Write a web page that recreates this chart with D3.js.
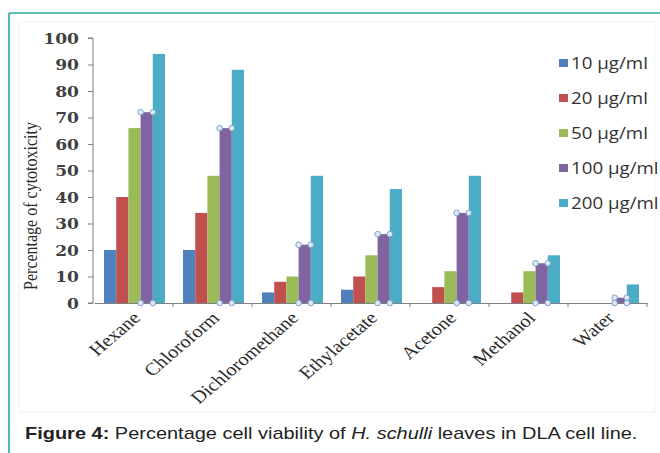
<!DOCTYPE html>
<html><head><meta charset="utf-8">
<script src="https://cdn.jsdelivr.net/npm/d3@7"></script>
<style>body{margin:0;background:#fff}svg{display:block}</style>
</head><body>
<svg id="c" width="660" height="453"></svg>
<script>
const categories = ["Hexane","Chloroform","Dichloromethane","Ethylacetate","Acetone","Methanol","Water"];
const seriesNames = ["10 µg/ml","20 µg/ml","50 µg/ml","100 µg/ml","200 µg/ml"];
const s10  = [20, 20, 4, 5, 0, 0, 0];
const s20  = [40, 34, 8, 10, 6, 4, 0];
const s50  = [66, 48, 10, 18, 12, 12, 0];
const s100 = [72, 66, 22, 26, 34, 15, 2];
const s200 = [94, 88, 48, 43, 48, 18, 7];
const yTicks = [0,10,20,30,40,50,60,70,80,90,100];
const colors = ["#4f81bd","#c0504d","#9bbb59","#8064a2","#4bacc6"];
const series = [s10,s20,s50,s100,s200];
const SX = 1.17; // horizontal stretch of the original figure

const svg = d3.select("#c");
// frame
svg.append("line").attr("x1",9).attr("x2",660).attr("y1",13).attr("y2",13).attr("stroke","#2aa89a").attr("stroke-width",1.6);
svg.append("line").attr("x1",9).attr("x2",9).attr("y1",13).attr("y2",453).attr("stroke","#2aa89a").attr("stroke-width",1.6);
svg.append("rect").attr("x",19).attr("y",22).attr("width",636).attr("height",390).attr("fill","none").attr("stroke","#f0f0f0");

const x0 = 94, x1 = 647, yB = 303, yT = 38;
const x = d3.scaleBand().domain(categories).range([x0,x1]).paddingInner(0).paddingOuter(0);
const xs = d3.scaleBand().domain(d3.range(5)).range([0, x.bandwidth()]).paddingOuter(0.74).paddingInner(0);
const y = d3.scaleLinear().domain([0,100]).range([yB,yT]);

// bars
series.forEach((vals,si)=>{
  svg.append("g").selectAll("rect").data(vals).join("rect")
    .attr("x",(d,i)=>x(categories[i])+xs(si)+1)
    .attr("y",d=>y(d))
    .attr("width",xs.bandwidth())
    .attr("height",d=>yB-y(d))
    .attr("fill",colors[si]);
});

// y axis
const ya = svg.append("g").attr("transform",`translate(${x0-1},0)`)
  .call(d3.axisLeft(y).tickValues(yTicks).tickSize(5).tickFormat(d3.format("d")));
ya.select(".domain").attr("stroke","#808080").attr("d",`M-5,${yB}H0V${yT}H-5`);
ya.selectAll(".tick line").attr("stroke","#808080");
ya.selectAll("text").attr("font-family","DejaVu Serif").attr("font-weight","bold").attr("font-size",14)
  .attr("fill","#404040").attr("x",-14/1.22).attr("dy","0.36em").attr("transform","scale(1.22,1)");

// x axis
const xa = svg.append("g").attr("transform",`translate(0,${yB})`)
  .call(d3.axisBottom(x).tickSize(0).tickFormat(""));
xa.select(".domain").attr("stroke","#808080").attr("stroke-width",1.2);
svg.append("g").selectAll("line").data(categories.slice(1).concat(["_end"])).join("line")
  .attr("x1",(d,i)=>x0+x.bandwidth()*(i+1)).attr("x2",(d,i)=>x0+x.bandwidth()*(i+1))
  .attr("y1",yB).attr("y2",yB+4).attr("stroke","#808080");

// category labels
svg.append("g").selectAll("text").data(categories).join("text")
  .attr("transform",d=>`translate(${x(d)+x.bandwidth()/2+8},${yB+16}) scale(${SX},1) rotate(-45)`)
  .attr("text-anchor","end")
  .attr("font-family","Liberation Serif").attr("font-size",17.5).attr("fill","#2a2a2a")
  .text(d=>d);

// selection handles on the 100 µg/ml series
const hx = (i)=>x(categories[i])+xs(3)+1;
const handles = [];
s100.forEach((v,i)=>{
  handles.push([hx(i), y(v)],[hx(i)+xs.bandwidth(), y(v)],[hx(i), yB],[hx(i)+xs.bandwidth(), yB]);
});
svg.append("g").selectAll("circle").data(handles).join("circle")
  .attr("cx",d=>d[0]).attr("cy",d=>d[1]).attr("r",2.8)
  .attr("fill","#dfe9f5").attr("stroke","#7fa1c9").attr("stroke-width",1);

// y title
svg.append("text").attr("transform","translate(37,206) scale(1.15,1) rotate(-90)")
  .attr("text-anchor","middle").attr("font-family","Liberation Serif").attr("font-size",16).attr("fill","#2a2a2a")
  .text("Percentage of cytotoxicity");

// legend
const lg = svg.append("g").selectAll("g").data(seriesNames).join("g")
  .attr("transform",(d,i)=>`translate(559,${63+i*35})`);
lg.append("rect").attr("x",0).attr("y",-4).attr("width",9).attr("height",8).attr("fill",(d,i)=>colors[i]);
lg.append("text").attr("x",12/SX).attr("dy","0.35em").attr("transform",`scale(${SX},1)`)
  .attr("font-family","Open Sans").attr("font-size",16).attr("fill","#333").text(d=>d);

// caption
const cap = svg.append("text").attr("x",0).attr("y",0).attr("font-family","Liberation Sans").attr("font-size",17).attr("fill","#222");
cap.append("tspan").attr("font-weight","bold").text("Figure 4:");
cap.append("tspan").text(" Percentage cell viability of ");
cap.append("tspan").attr("font-style","italic").text("H. schulli");
cap.append("tspan").text(" leaves in DLA cell line.");
const w = cap.node().getComputedTextLength();
cap.attr("transform",`translate(25,439) scale(${(638-25)/w},1)`);
</script>
</body></html>
